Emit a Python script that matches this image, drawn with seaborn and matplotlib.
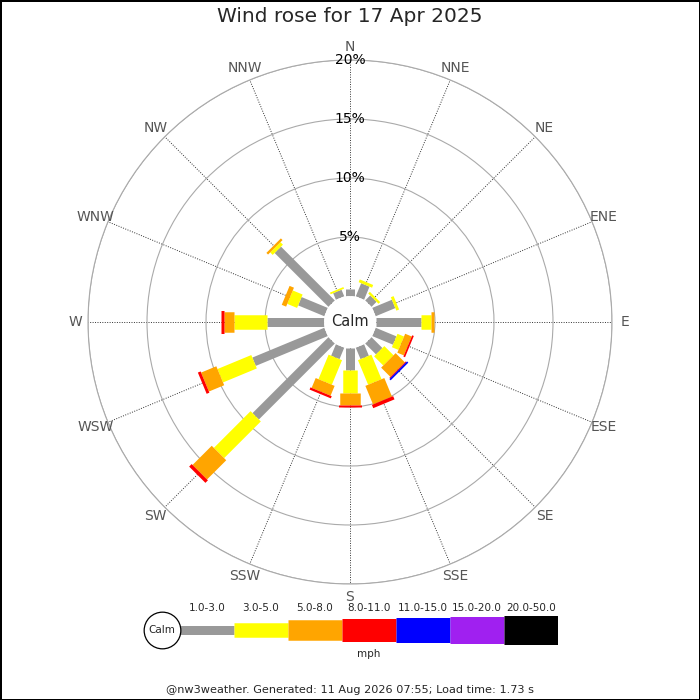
import numpy as np
import seaborn as sns
import matplotlib.pyplot as plt

# Wind rose data (percent of time per direction, per speed class)
directions = ["N", "NNE", "NE", "ENE", "E", "ESE", "SE", "SSE",
              "S", "SSW", "SW", "WSW", "W", "WNW", "NW", "NNW"]
speed_bins = ["1.0-3.0", "3.0-5.0", "5.0-8.0", "8.0-11.0",
              "11.0-15.0", "15.0-20.0", "20.0-50.0"]
pct_1_3 = [0.57, 1.2, 0.6, 1.8, 3.8, 1.9, 1.3, 1.05, 1.85, 1.05, 9.1, 6.6, 4.85, 2.4, 6.45, 0.6]
pct_3_5 = [0, 0.25, 0.2, 0.25, 0.85, 0.6, 1.1, 2.25, 1.95, 2.25, 4.4, 3.1, 2.8, 0.9, 0.3, 0.15]
pct_5_8 = [0, 0, 0, 0, 0.25, 0.6, 1.1, 1.7, 1.05, 0.9, 2.3, 1.4, 0.85, 0.4, 0.2, 0]
pct_8_11 = [0, 0, 0, 0, 0, 0.15, 0.08, 0.3, 0.12, 0.2, 0.3, 0.25, 0.2, 0, 0, 0]
pct_11_15 = [0, 0, 0, 0, 0, 0, 0.15, 0, 0, 0, 0, 0, 0, 0, 0, 0]
pct_15_20 = [0] * 16
pct_20_50 = [0] * 16
rings = [5, 10, 15, 20]

colors = ["#999999", "#ffff00", "#ffa500", "#ff0000", "#0000ff", "#a020f0", "#000000"]
widths_px = [9, 14.5, 20.5, 23, 25, 27, 29]

sns.set_theme(style="white")
plt.rcParams['font.family'] = ['DejaVu Sans']

fig = plt.figure(figsize=(7, 7), dpi=100)
fig.patch.set_edgecolor("black")
fig.patch.set_linewidth(2)

ax = fig.add_axes([88 / 700, 116 / 700, 524 / 700, 524 / 700], projection="polar")
ax.set_theta_zero_location("N")
ax.set_theta_direction(-1)

theta = np.deg2rad(np.arange(len(directions)) * 22.5)
class_pcts = [pct_1_3, pct_3_5, pct_5_8, pct_8_11, pct_11_15, pct_15_20, pct_20_50]

cum = np.zeros(len(directions))
for vals, c, w in zip(class_pcts, colors, widths_px):
    vals = np.array(vals, dtype=float)
    for t, r0, v in zip(theta, cum, vals):
        if v > 0:
            ax.plot([t, t], [r0, r0 + v], color=c, lw=w * 0.72,
                    solid_capstyle="butt", zorder=3)
    cum = cum + vals

ax.set_ylim(0, 20)
ax.set_rorigin(-2.2)
ax.set_xticks(theta)
ax.set_xticklabels([])
ax.set_yticks(rings)
ax.set_yticklabels([])
ax.xaxis.grid(True, color="#333333", linestyle=(0, (1, 1.5)), linewidth=0.7)
ax.yaxis.grid(True, color="#aaaaaa", linestyle="-", linewidth=0.8)
# the inner spine is switched back on at draw time, so make it invisible by colour
for name, sp in ax.spines.items():
    if name != "polar":
        sp.set_color("none")
        sp.set_linewidth(0)
ax.spines["polar"].set_color("#aaaaaa")
ax.spines["polar"].set_linewidth(0.8)
ax.patch.set_edgecolor("none")
ax.tick_params(length=0)
ax.set_axisbelow(True)

for t, d in zip(theta, directions):
    ax.text(t, 21.1, d, ha="center", va="center", color="#555555", fontsize=10)
for r in rings:
    ax.text(0, r, f"{r}%", ha="center", va="center", color="black", fontsize=10, zorder=4)
ax.text(0.5, 0.5, "Calm", transform=ax.transAxes, ha="center", va="center", fontsize=10.5)

# Legend strip
lax = fig.add_axes([126 / 700, 35 / 700, 432 / 700, 70 / 700])
lax.set_xlim(-1, 7)
lax.set_ylim(-35, 35)
lax.axis("off")
for i, (lab, c, w) in enumerate(zip(speed_bins, colors, widths_px)):
    lax.plot([i, i + 1], [0, 0], color=c, lw=w * 0.72, solid_capstyle="butt")
    lax.text(i + 0.5, 22, lab, ha="center", va="center", fontsize=7.5)
lax.plot(-1 / 3, 0, "o", ms=26.4, mfc="white", mec="black", mew=0.9, zorder=5)
lax.text(-1 / 3, 0, "Calm", ha="center", va="center", fontsize=7.5, zorder=6)
lax.text(3.5, -24, "mph", ha="center", va="center", fontsize=7.5)

fig.text(0.5, 1 - 17 / 700, "Wind rose for 17 Apr 2025", ha="center", va="center", fontsize=14.5)
fig.text(0.5, 1 - 690 / 700, "@nw3weather. Generated: 11 Aug 2026 07:55; Load time: 1.73 s",
         ha="center", va="center", fontsize=8.1)

fig.savefig("out.png", dpi=100, edgecolor=fig.get_edgecolor())
